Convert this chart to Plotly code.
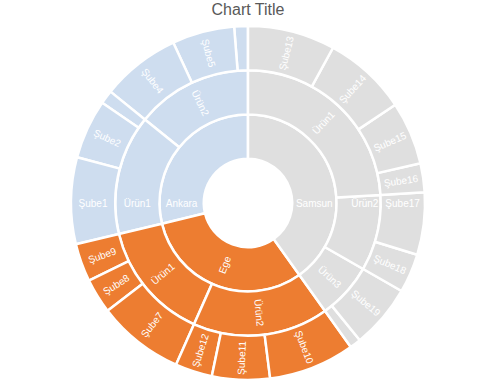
import plotly.graph_objects as go

# Leaf data (region, product, branch, value), listed clockwise from 12 o'clock
regions = ["Samsun"] * 8 + ["Ege"] * 6 + ["Ankara"] * 6
products = ["Ürün1", "Ürün1", "Ürün1", "Ürün1", "Ürün2", "Ürün2", "Ürün3", "Ürün3",
            "Ürün2", "Ürün2", "Ürün2", "Ürün1", "Ürün1", "Ürün1",
            "Ürün1", "Ürün1", "Ürün1", "Ürün2", "Ürün2", "Ürün2"]
branches = ["Şube13", "Şube14", "Şube15", "Şube16", "Şube17", "Şube18", "Şube19", "Şube20",
            "Şube10", "Şube11", "Şube12", "Şube7", "Şube8", "Şube9",
            "Şube1", "Şube2", "Şube3", "Şube4", "Şube5", "Şube6"]
values = [287, 276, 207, 95, 205, 128, 210, 37,
          283, 190, 122, 285, 115, 125,
          285, 195, 45, 260, 205, 45]

region_colors = {"Samsun": "#DFDFDF", "Ege": "#ED7D31", "Ankara": "#CEDDEF"}
MIN_LABEL_VALUE = 60  # labels of very thin sectors are hidden, as in the original

# Plotly lays sectors out counter-clockwise, so feed them in reverse order
ids, labels, parents, vals, colors, texts = ["root"], [""], [""], [0], ["rgba(255,255,255,0)"], [""]
seen = set()
for r, p, b, v in reversed(list(zip(regions, products, branches, values))):
    if r not in seen:
        seen.add(r)
        ids.append(r); labels.append(r); parents.append("root"); vals.append(0)
        colors.append(region_colors[r]); texts.append(r)
    pid = r + "/" + p
    if pid not in seen:
        seen.add(pid)
        ids.append(pid); labels.append(p); parents.append(r); vals.append(0)
        colors.append(region_colors[r]); texts.append(p)
    ids.append(pid + "/" + b); labels.append(b); parents.append(pid); vals.append(v)
    colors.append(region_colors[r]); texts.append(b if v >= MIN_LABEL_VALUE else "")

fig = go.Figure(go.Sunburst(
    ids=ids, labels=labels, parents=parents, values=vals,
    text=texts, textinfo="text",
    branchvalues="remainder",
    sort=False,
    rotation=90,
    marker=dict(colors=colors, line=dict(color="white", width=2.5)),
    leaf=dict(opacity=1),
    insidetextorientation="radial",
    textfont=dict(color="white", size=10, family="Liberation Sans"),
    hoverinfo="skip",
    domain=dict(x=[71/477, 425/477], y=[6/386, 360/386]),
))

fig.update_layout(
    width=477, height=386,
    margin=dict(l=0, r=0, t=0, b=0),
    paper_bgcolor="white",
    title=dict(text="Chart Title", x=248/477, xanchor="center",
               y=1 - 9/386, yanchor="middle", yref="container",
               font=dict(family="Liberation Sans", size=16, color="#595959")),
    showlegend=False,
)

fig.write_html("out.html")
